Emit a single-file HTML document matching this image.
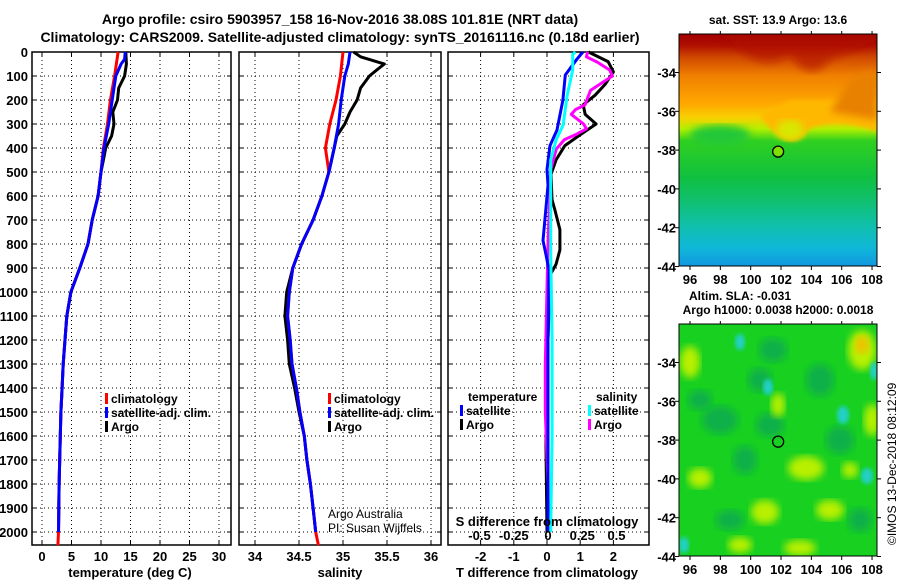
<!DOCTYPE html>
<html><head><meta charset="utf-8"><style>
html,body{margin:0;padding:0;background:#fff;width:900px;height:580px;overflow:hidden}
svg{display:block;font-family:"Liberation Sans",Arial,sans-serif;font-weight:bold}
</style></head><body>
<svg id="chart" width="900" height="580" viewBox="0 0 900 580">
<defs>
<linearGradient id="sstGrad" x1="0" y1="0" x2="0" y2="1">
<stop offset="0" stop-color="#a00000"/><stop offset="0.05" stop-color="#b01000"/>
<stop offset="0.10" stop-color="#d04800"/><stop offset="0.18" stop-color="#f08000"/>
<stop offset="0.30" stop-color="#ffa800"/><stop offset="0.36" stop-color="#f8d000"/>
<stop offset="0.41" stop-color="#b0f000"/><stop offset="0.46" stop-color="#30d020"/>
<stop offset="0.62" stop-color="#10c040"/><stop offset="0.72" stop-color="#10c070"/>
<stop offset="0.82" stop-color="#10c0a8"/><stop offset="0.92" stop-color="#10b8d8"/>
<stop offset="1" stop-color="#1098e0"/>
</linearGradient>
<filter id="blur3"><feGaussianBlur stdDeviation="4"/></filter>
<filter id="blur2"><feGaussianBlur stdDeviation="2"/></filter>
<clipPath id="clipTop"><rect x="679" y="34" width="198" height="232"/></clipPath>
<clipPath id="clipBot"><rect x="679" y="324" width="198" height="232"/></clipPath>
</defs>
<text x="340" y="24" text-anchor="middle" font-size="14">Argo profile: csiro 5903957_158 16-Nov-2016 38.08S 101.81E (NRT data)</text>
<text x="340" y="42" text-anchor="middle" font-size="14">Climatology: CARS2009. Satellite-adjusted climatology: synTS_20161116.nc (0.18d earlier)</text>
<g id="g"></g>
</svg>
<script>
const depthTicks=[0,100,200,300,400,500,600,700,800,900,1000,1100,1200,1300,1400,1500,1600,1700,1800,1900,2000];
const tempTicks=[0,5,10,15,20,25,30];
const salTicks=[34,34.5,35,35.5,36];
const tdiffTicks=[-2,-1,0,1,2];
const sdiffTicks=[-0.5,-0.25,0,0.25,0.5];
const deepDepths=[500,600,700,800,900,1000,1100,1200,1300,1400,1500,1600,1700,1800,1900,2000];
const tClimDepth=[0,100,200,300,400];
const tClimVal=[12.9,12.3,11.6,11.1,10.4];
const tSatDepth=[0,30,50,100,200,300,400];
const tSatVal=[14.1,14.0,13.4,12.5,11.9,11.3,10.5];
const tArgoDepth=[0,50,100,150,200,250,300,350,400,450];
const tArgoVal=[14.2,14.3,14.0,13.0,12.8,12.0,12.2,11.8,10.8,10.4];
const tDeepVal=[10.0,9.5,8.5,7.8,6.4,4.9,4.2,3.9,3.6,3.4,3.2,3.1,3.0,2.9,2.85,2.8];
const sClimDepth=[0,100,200,300,400];
const sClimVal=[35.0,34.97,34.92,34.85,34.8];
const sSatDepth=[0,50,100,200,300,400];
const sSatVal=[35.08,35.06,35.02,34.98,34.95,34.9];
const sArgoDepth=[0,20,50,70,100,150,200,250,300,350,450];
const sArgoVal=[35.12,35.2,35.47,35.4,35.3,35.2,35.16,35.08,35.02,34.93,34.87];
const sDeepVal=[34.84,34.76,34.66,34.53,34.43,34.39,34.37,34.4,34.42,34.47,34.51,34.56,34.59,34.63,34.66,34.69];
const sArgoDeepOffset=[0,0,0,0,0,-0.03,-0.03,-0.03,-0.03,-0.02,-0.01,0,0,0,0,0];
const dTSatDepth=[0,30,96,200,325,390,490,555,740,785,845,910,1200,1600,2000];
const dTSatVal=[1.08,0.9,0.55,0.48,0.3,0.09,0,0.03,-0.09,-0.12,-0.03,0.06,0.03,0.03,0.03];
const dSSatDepth=[0,10,75,180,305,365,450,575,825,1200,1600,2000];
const dSSatVal=[0.2,0.18,0.18,0.14,0.11,0.06,0.02,0.02,0.02,0.03,0.03,0.02];
const dSArgoDepth=[0,20,42,75,100,160,220,240,260,300,320,345,365,405,490,800,1300,1500,1800,2000];
const dSArgoVal=[0.29,0.28,0.36,0.45,0.47,0.31,0.27,0.2,0.17,0.26,0.28,0.2,0.12,0.06,0.02,0.0,-0.02,-0.02,0.0,0.0];
const dTArgoDepth=[0,40,83,135,180,220,260,300,345,390,450,510,615,660,740,825,885,930,1200,1500,1650,2000];
const dTArgoVal=[1.25,1.84,2.0,1.75,1.45,1.09,1.15,1.48,1.0,0.54,0.27,0.12,0.15,0.24,0.39,0.39,0.27,0.09,0.03,-0.03,-0.03,0.0];

const NS='http://www.w3.org/2000/svg';
const G=document.getElementById('g');
function el(tag,attrs,parent){const e=document.createElementNS(NS,tag);for(const k in attrs)e.setAttribute(k,attrs[k]);(parent||G).appendChild(e);return e;}
const yD=d=>52+d*0.24;
const xT=t=>42+t*5.9;
const xS=s=>255+(s-34)*88;
const xDT=v=>547+v*33.2;
const xDS=v=>548+v*137;
const pTop=52,pBot=545;

function panel(name,x0,x1,ticks,xf,showY){
  const g=el('g',{});
  
  
  depthTicks.forEach(d=>{const y=yD(d);
    const l=el('line',{x1:x0,x2:x1,y1:y,y2:y,stroke:'#000','stroke-width':1,'stroke-dasharray':'1,3'},g);
    
    
    el('line',{x1:x0,x2:x0+4,y1:y,y2:y,stroke:'#000'},g);el('line',{x1:x1-4,x2:x1,y1:y,y2:y,stroke:'#000'},g);
    if(showY){const t=el('text',{x:28,y:y+5,'text-anchor':'end','font-size':13},g);t.textContent=d;
      
      }
  });
  ticks.forEach(v=>{const x=xf(v);
    const l=el('line',{x1:x,x2:x,y1:pTop,y2:pBot,stroke:'#000','stroke-width':1,'stroke-dasharray':'1,3'},g);
    
    
    el('line',{x1:x,x2:x,y1:pBot-4,y2:pBot,stroke:'#000'},g);el('line',{x1:x,x2:x,y1:pTop,y2:pTop+4,stroke:'#000'},g);
  });
  const r=el('rect',{x:x0,y:pTop,width:x1-x0,height:pBot-pTop,fill:'none',stroke:'#000','stroke-width':1.5},g);
  
  
  return g;
}
function xlabels(ticks,xf,y){ticks.forEach(v=>{const t=el('text',{x:xf(v),y:y,'text-anchor':'middle','font-size':13});t.textContent=v;
  
  });}
function label(txt,x,y,size,name,anchor,extra){const t=el('text',Object.assign({x:x,y:y,'font-size':size,'text-anchor':anchor||'start'},extra||{}));t.textContent=txt;
  
  
  return t;}
function line(depths,vals,xf,color,name,w){const pts=depths.map((d,i)=>xf(vals[i]).toFixed(1)+','+yD(d).toFixed(1)).join(' ');
  const p=el('polyline',{points:pts,fill:'none',stroke:color,'stroke-width':w||3,'stroke-linejoin':'round'});
  
  
  return p;}
function legend(x,y,color,txt,name){const r=el('rect',{x:x,y:y-10,width:3,height:11,fill:color});
  
  
  label(txt,x+6,y,12,name);}

panel('temperature-panel',32,231,tempTicks,xT,true);
panel('salinity-panel',239,441,salTicks,xS,false);
panel('difference-panel',448,649,tdiffTicks,xDT,false);
xlabels(tempTicks,xT,561);xlabels(salTicks,xS,561);xlabels(tdiffTicks,xDT,561);
label('temperature (deg C)',130,577,13,'temperature-axis-title','middle');
label('salinity',340,577,13,'salinity-axis-title','middle');
label('T difference from climatology',547,577,13,'t-difference-axis-title','middle');

const extD=deepDepths.concat([2055]);
line(tArgoDepth.concat(deepDepths),tArgoVal.concat(tDeepVal),xT,'#000','temp-argo-line');
line(tClimDepth.concat(extD),tClimVal.concat(tDeepVal,[2.7]),xT,'#f00','temp-climatology-line');
line(tSatDepth.concat(deepDepths),tSatVal.concat(tDeepVal),xT,'#00f','temp-satellite-line');
line(sArgoDepth.concat(deepDepths),sArgoVal.concat(sDeepVal.map((v,i)=>v+sArgoDeepOffset[i])),xS,'#000','sal-argo-line');
line(sClimDepth.concat(extD),sClimVal.concat(sDeepVal,[34.72]),xS,'#f00','sal-climatology-line');
line(sSatDepth.concat(deepDepths),sSatVal.concat(sDeepVal),xS,'#00f','sal-satellite-line');
line(dTArgoDepth,dTArgoVal,xDT,'#000','tdiff-argo-line');
line(dSArgoDepth,dSArgoVal,xDS,'#f0f','sdiff-argo-line');
line(dTSatDepth,dTSatVal,xDT,'#00f','tdiff-satellite-line');
line(dSSatDepth,dSSatVal,xDS,'#0ff','sdiff-satellite-line');

[[105,'temp'],[328,'sal']].forEach(([x,p])=>{
  legend(x,403,'#f00','climatology',p+'-legend-climatology');
  legend(x,417,'#00f','satellite-adj. clim.',p+'-legend-satellite');
  legend(x,431,'#000','Argo',p+'-legend-argo');
});
el('rect',{x:467,y:389,width:74,height:14,fill:'#fff'});
label('temperature',468,401,12,'tdiff-legend-title');
el('rect',{x:595,y:389,width:42,height:14,fill:'#fff'});
label('salinity',596,401,12,'sdiff-legend-title');
legend(460,415,'#00f','satellite','tdiff-legend-satellite');
legend(460,429,'#000','Argo','tdiff-legend-argo');
legend(588,415,'#0ff','satellite','sdiff-legend-satellite');
legend(588,429,'#f0f','Argo','sdiff-legend-argo');
label('S difference from climatology',547,526,13,'s-difference-axis-title','middle');
xlabels(sdiffTicks,xDS,540);
label('Argo Australia',328,518,12,'credit-argo-australia','start',{'font-weight':'normal'});
label('PI: Susan Wijffels',328,532,12,'credit-pi','start',{'font-weight':'normal'});

const lonTicks=[96,98,100,102,104,106,108];
const latTicks=[-34,-36,-38,-40,-42,-44];
const xLon=l=>690+(l-96)*15.17;
function map(name,y0,drawFill,clip){
  const g=el('g',{});
  
  
  const yLat=l=>y0+38.5+(-34-l)*19.4;
  const f=el('g',{'clip-path':'url(#'+clip+')'},g);
  drawFill(f);
  lonTicks.forEach(l=>{el('line',{x1:xLon(l),x2:xLon(l),y1:y0+232,y2:y0+236,stroke:'#000'},g);el('line',{x1:xLon(l),x2:xLon(l),y1:y0-3,y2:y0,stroke:'#000'},g);});
  latTicks.forEach(l=>{el('line',{x1:877,x2:881,y1:yLat(l),y2:yLat(l),stroke:'#000'},g);el('line',{x1:675,x2:679,y1:yLat(l),y2:yLat(l),stroke:'#000'},g);
    const t=el('text',{x:676,y:yLat(l)+5,'font-size':13,'text-anchor':'end'},g);t.textContent=l;
    
    });
  lonTicks.forEach(l=>{const t=el('text',{x:xLon(l),y:y0+250,'text-anchor':'middle','font-size':13},g);t.textContent=l;
    
    });
  el('rect',{x:679,y:y0,width:198,height:232,fill:'none',stroke:'#000','stroke-width':1},g);
  const c=el('circle',{cx:xLon(101.81),cy:yLat(-38.08),r:5.5,fill:'none',stroke:'#000','stroke-width':1.3},g);
  
  
}
map('sst-map',34,f=>{
  el('rect',{x:679,y:34,width:198,height:232,fill:'url(#sstGrad)'},f);
  el('path',{d:'M 760 115 Q 790 160 810 128 Q 840 118 877 132 L 877 100 L 790 100 Z',fill:'#ffb800',filter:'url(#blur2)'},f);
  el('path',{d:'M 830 112 L 877 120 L 877 70 L 850 80 Z',fill:'#e88000',filter:'url(#blur3)'},f);
  el('path',{d:'M 730 40 Q 760 75 790 55 Q 810 85 830 60 L 877 40 L 877 34 L 679 34 Z',fill:'#b00800',opacity:0.6,filter:'url(#blur3)'},f);
  el('ellipse',{cx:720,cy:135,rx:30,ry:10,fill:'#20c838',filter:'url(#blur3)'},f);
  el('ellipse',{cx:790,cy:130,rx:14,ry:10,fill:'#d8e800',filter:'url(#blur3)'},f);
  el('circle',{cx:xLon(101.81),cy:151,r:5,fill:'#80e000'},f);
},'clipTop');
label('sat. SST: 13.9 Argo: 13.6',778,24,12,'sst-map-title','middle');
map('sla-map',324,f=>{
  el('rect',{x:679,y:324,width:198,height:232,fill:'#18d020'},f);
  const dk=[[773,350,14,12],[770,425,14,12],[745,460,12,14],[720,420,18,14],[760,380,12,12],[730,520,14,10],[860,520,12,12],[840,440,14,14],[820,380,14,16],[700,400,12,10]];
  dk.forEach(b=>el('ellipse',{cx:b[0],cy:b[1],rx:b[2],ry:b[3],fill:'#10b048',filter:'url(#blur3)'},f));
  const yel=[[690,362,10,16],[862,350,14,20],[872,420,8,16],[778,405,7,12],[806,468,18,12],[765,512,14,12],[700,478,12,10],[830,510,14,10],[740,545,12,8],[800,548,16,8],[850,470,8,8]];
  yel.forEach(b=>el('ellipse',{cx:b[0],cy:b[1],rx:b[2],ry:b[3],fill:'#b8f000',filter:'url(#blur3)'},f));
  el('ellipse',{cx:862,cy:345,rx:7,ry:9,fill:'#f0c000',filter:'url(#blur3)'},f);
  const cy=[[740,342,5,8],[768,387,5,8],[843,415,6,9],[874,371,4,9],[867,476,6,8],[684,545,5,8]];
  cy.forEach(b=>el('ellipse',{cx:b[0],cy:b[1],rx:b[2],ry:b[3],fill:'#20d0c8',filter:'url(#blur2)'},f));
},'clipBot');
label('Altim. SLA: -0.031',740,300,12,'sla-value-label','middle');
label('Argo h1000: 0.0038 h2000: 0.0018',778,314,12,'argo-height-label','middle');
const imos=el('text',{x:0,y:0,'font-size':12,'font-weight':'normal',transform:'translate(896,545) rotate(-90)'});
imos.textContent='©IMOS 13-Dec-2018 08:12:09';


</script>
</body></html>
